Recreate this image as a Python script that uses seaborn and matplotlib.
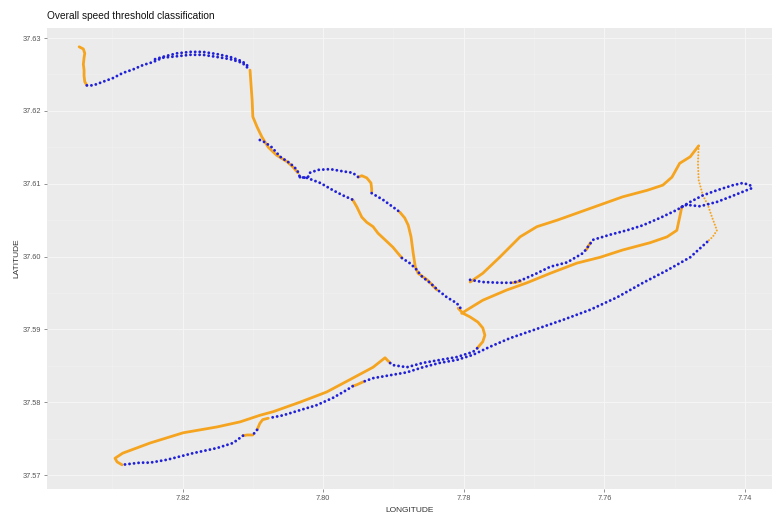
import matplotlib
matplotlib.use("Agg")
import matplotlib.pyplot as plt
from matplotlib.ticker import MultipleLocator
import seaborn as sns
import pandas as pd

# ---------------- data ----------------
title = "Overall speed threshold classification"
x_label = "LONGITUDE"
y_label = "LATITUDE"
x_ticks = [7.82, 7.80, 7.78, 7.76, 7.74]
x_tick_labels = ["7.82", "7.80", "7.78", "7.76", "7.74"]
y_ticks = [37.63, 37.62, 37.61, 37.60, 37.59, 37.58, 37.57]
y_tick_labels = ["37.63", "37.62", "37.61", "37.60", "37.59", "37.58", "37.57"]

# track pieces: class "orange" = above threshold, "blue" = below threshold
o1_lon = [7.8347, 7.8341, 7.8339, 7.8340, 7.8341, 7.8340, 7.8340, 7.8339, 7.8336]
o1_lat = [37.6288, 37.6285, 37.6279, 37.6273, 37.6264, 37.6256, 37.6248, 37.6240, 37.6235]
b1_lon = [7.8336, 7.8327, 7.8313, 7.8299, 7.8285, 7.8270, 7.8256, 7.8242, 7.8228, 7.8208,
          7.8189, 7.8171, 7.8151, 7.8132, 7.8115, 7.8104]
b1_lat = [37.6235, 37.6235, 37.6240, 37.6245, 37.6252, 37.6257, 37.6263, 37.6267, 37.6273, 37.6275,
          37.6277, 37.6277, 37.6274, 37.6271, 37.6266, 37.6256]
b2_lon = [7.8239, 7.8225, 7.8208, 7.8189, 7.8171, 7.8151, 7.8132, 7.8115, 7.8105]
b2_lat = [37.6271, 37.6275, 37.6279, 37.6281, 37.6281, 37.6278, 37.6274, 37.6268, 37.6260]
o2_lon = [7.8104, 7.8103, 7.8101, 7.8100, 7.8094, 7.8087, 7.8078, 7.8066, 7.8051, 7.8043, 7.8036]
o2_lat = [37.6256, 37.6242, 37.6215, 37.6192, 37.6178, 37.6164, 37.6150, 37.6139, 37.6130, 37.6123, 37.6115]
b3_lon = [7.8090, 7.8083, 7.8073, 7.8061, 7.8047, 7.8037, 7.8033, 7.8023]
b3_lat = [37.6160, 37.6157, 37.6150, 37.6137, 37.6128, 37.6119, 37.6109, 37.6108]
b4_lon = [7.8033, 7.8022, 7.8019, 7.8007, 7.7990, 7.7972, 7.7958, 7.7950]
b4_lat = [37.6109, 37.6108, 37.6115, 37.6119, 37.6120, 37.6117, 37.6115, 37.6109]
o3_lon = [7.7950, 7.7945, 7.7938, 7.7932, 7.7931, 7.7931]
o3_lat = [37.6109, 37.6111, 37.6108, 37.6101, 37.6093, 37.6089]
b5_lon = [7.7931, 7.7915, 7.7895, 7.7891]
b5_lat = [37.6087, 37.6078, 37.6064, 37.6061]
o4_lon = [7.7891, 7.7884, 7.7879, 7.7875, 7.7872, 7.7869, 7.7865, 7.7852, 7.7838]
o4_lat = [37.6061, 37.6053, 37.6043, 37.6027, 37.6005, 37.5986, 37.5977, 37.5968, 37.5954]
b7_lon = [7.8023, 7.8004, 7.7986, 7.7972, 7.7958]
b7_lat = [37.6108, 37.6101, 37.6091, 37.6084, 37.6078]
o5_lon = [7.7958, 7.7952, 7.7945, 7.7938, 7.7929, 7.7922, 7.7912, 7.7901, 7.7888]
o5_lat = [37.6078, 37.6068, 37.6054, 37.6047, 37.6041, 37.6032, 37.6023, 37.6013, 37.5998]
b8_lon = [7.7888, 7.7877, 7.7869, 7.7859, 7.7848, 7.7837, 7.7824, 7.7810, 7.7803]
b8_lat = [37.5998, 37.5991, 37.5984, 37.5972, 37.5964, 37.5954, 37.5944, 37.5936, 37.5927]
o7_lon = [7.7808, 7.7801, 7.7791, 7.7780, 7.7773, 7.7770, 7.7773, 7.7781]
o7_lat = [37.5929, 37.5922, 37.5917, 37.5910, 37.5902, 37.5892, 37.5883, 37.5874]
o8_lon = [7.7803, 7.7795, 7.7773, 7.7739, 7.7710, 7.7677, 7.7639, 7.7606, 7.7574, 7.7535,
          7.7511, 7.7497, 7.7493, 7.7490]
o8_lat = [37.5922, 37.5927, 37.5940, 37.5954, 37.5964, 37.5977, 37.5991, 37.5999, 37.6009, 37.6019,
          37.6027, 37.6036, 37.6054, 37.6068]
b9_lon = [7.7791, 7.7773, 7.7749, 7.7730, 7.7717, 7.7696, 7.7677, 7.7653, 7.7630, 7.7616,
          7.7592, 7.7568, 7.7545, 7.7521, 7.7497, 7.7478, 7.7460, 7.7440, 7.7417, 7.7403,
          7.7393, 7.7390, 7.7403, 7.7421, 7.7440, 7.7464, 7.7483, 7.7490]
b9_lat = [37.5968, 37.5965, 37.5964, 37.5964, 37.5968, 37.5977, 37.5986, 37.5992, 37.6005, 37.6023,
          37.6030, 37.6036, 37.6043, 37.6053, 37.6064, 37.6075, 37.6084, 37.6091, 37.6098, 37.6101,
          37.6098, 37.6094, 37.6089, 37.6082, 37.6075, 37.6069, 37.6071, 37.6068]
o9_lon = [7.7730, 7.7724, 7.7719]
o9_lat = [37.5964, 37.5965, 37.5966]
o10_lon = [7.7626, 7.7623, 7.7620]
o10_lat = [37.6009, 37.6014, 37.6019]
o11_lon = [7.7791, 7.7773, 7.7749, 7.7720, 7.7696, 7.7667, 7.7635, 7.7606, 7.7574, 7.7539,
           7.7517, 7.7504, 7.7493, 7.7478, 7.7466]
o11_lat = [37.5965, 37.5977, 37.5999, 37.6027, 37.6041, 37.6050, 37.6061, 37.6071, 37.6082, 37.6091,
           37.6098, 37.6109, 37.6128, 37.6137, 37.6152]
o12_lon = [7.7466, 7.7467, 7.7466, 7.7460, 7.7453, 7.7447, 7.7440, 7.7446, 7.7454]
o12_lat = [37.6152, 37.6128, 37.6105, 37.6084, 37.6071, 37.6054, 37.6036, 37.6027, 37.6020]
b10_lon = [7.7454, 7.7478, 7.7511, 7.7545, 7.7582, 7.7620, 7.7659, 7.7692, 7.7734, 7.7763,
           7.7787, 7.7810, 7.7834, 7.7858, 7.7881, 7.7905, 7.7929, 7.7943]
b10_lat = [37.6020, 37.5999, 37.5981, 37.5964, 37.5944, 37.5927, 37.5913, 37.5902, 37.5888, 37.5876,
           37.5865, 37.5858, 37.5854, 37.5848, 37.5841, 37.5837, 37.5833, 37.5828]
o13_lon = [7.7943, 7.7952, 7.7958]
o13_lat = [37.5828, 37.5824, 37.5822]
b11_lon = [7.7958, 7.7966, 7.7986, 7.8009, 7.8033, 7.8057, 7.8078]
b11_lat = [37.5822, 37.5817, 37.5806, 37.5796, 37.5789, 37.5782, 37.5778]
o14_lon = [7.8078, 7.8086, 7.8090, 7.8094]
o14_lat = [37.5778, 37.5776, 37.5771, 37.5762]
b12_lon = [7.8094, 7.8100]
b12_lat = [37.5762, 37.5755]
o15_lon = [7.8100, 7.8108, 7.8114]
o15_lat = [37.5755, 37.5755, 37.5754]
b13_lon = [7.8114, 7.8128, 7.8151, 7.8185, 7.8222, 7.8246, 7.8260, 7.8286]
b13_lat = [37.5754, 37.5744, 37.5737, 37.5730, 37.5721, 37.5717, 37.5717, 37.5714]
b14_lon = [7.7781, 7.7787, 7.7810, 7.7834, 7.7858, 7.7881, 7.7901, 7.7905]
b14_lat = [37.5874, 37.5869, 37.5862, 37.5858, 37.5854, 37.5848, 37.5851, 37.5854]
o16_lon = [7.7905, 7.7912, 7.7929, 7.7958, 7.7995, 7.8033, 7.8071, 7.8090, 7.8118, 7.8151,
           7.8199, 7.8246, 7.8285, 7.8296, 7.8293, 7.8286]
o16_lat = [37.5854, 37.5861, 37.5848, 37.5833, 37.5814, 37.5800, 37.5787, 37.5782, 37.5773, 37.5766,
           37.5758, 37.5744, 37.5730, 37.5723, 37.5718, 37.5714]

segments = [
    ("orange", o1_lon, o1_lat), ("orange", o2_lon, o2_lat), ("orange", o3_lon, o3_lat),
    ("orange", o4_lon, o4_lat), ("orange", o5_lon, o5_lat), ("orange", o7_lon, o7_lat),
    ("orange", o8_lon, o8_lat), ("orange", o9_lon, o9_lat), ("orange", o10_lon, o10_lat),
    ("orange", o11_lon, o11_lat), ("orange_sparse", o12_lon, o12_lat), ("orange", o13_lon, o13_lat),
    ("orange", o14_lon, o14_lat), ("orange", o15_lon, o15_lat), ("orange", o16_lon, o16_lat),
    ("blue", b1_lon, b1_lat), ("blue", b2_lon, b2_lat), ("blue", b3_lon, b3_lat),
    ("blue", b4_lon, b4_lat), ("blue", b5_lon, b5_lat), ("blue", b7_lon, b7_lat),
    ("blue", b8_lon, b8_lat), ("blue", b9_lon, b9_lat), ("blue", b10_lon, b10_lat),
    ("blue", b11_lon, b11_lat), ("blue", b12_lon, b12_lat), ("blue", b13_lon, b13_lat),
    ("blue", b14_lon, b14_lat),
]

rows = []
for i, (cls, lons, lats) in enumerate(segments):
    for lo, la in zip(lons, lats):
        rows.append({"seg": i, "cls": cls, "lon": lo, "lat": la})
df = pd.DataFrame(rows)

# ---------------- styling ----------------
sns.set_theme(style="darkgrid", rc={
    "axes.facecolor": "#EBEBEB",
    "grid.color": "white",
})
plt.rcParams["font.family"] = ["Liberation Sans", "DejaVu Sans"]

styles = {
    "orange": dict(color="#F5A420", linewidth=2.0, linestyle="-", solid_capstyle="round"),
    "orange_sparse": dict(color="#F5A420", linewidth=1.5, linestyle=(0, (0.01, 1.5)), dash_capstyle="round"),
    "blue": dict(color="#2020D8", linewidth=2.1, linestyle=(0, (0.01, 1.55)), dash_capstyle="round"),
}

fig = plt.figure(figsize=(7.74, 5.15), dpi=100)
ax = fig.add_axes([47 / 774, 1 - 489 / 515, (772 - 47) / 774, (489 - 28) / 515])

for i, (cls, _, _) in enumerate(segments):
    sub = df[df["seg"] == i]
    sns.lineplot(data=sub, x="lon", y="lat", sort=False, estimator=None, ax=ax, **styles[cls])

ax.set_xlim(7.83927, 7.73617)
ax.set_ylim(37.56808, 37.63138)
ax.set_xticks(x_ticks)
ax.set_xticklabels(x_tick_labels)
ax.set_yticks(y_ticks)
ax.set_yticklabels(y_tick_labels)
ax.xaxis.set_minor_locator(MultipleLocator(0.01))
ax.yaxis.set_minor_locator(MultipleLocator(0.005))
ax.grid(which="major", color="#F6F6F6", linewidth=0.7)
ax.grid(which="minor", color="#F1F1F1", linewidth=0.4)
for s in ax.spines.values():
    s.set_visible(False)
ax.tick_params(axis="both", which="major", length=2, width=0.5, color="#666666",
               labelsize=5.3, labelcolor="#555555", pad=2, bottom=True, left=True)
ax.tick_params(axis="both", which="minor", length=0)
ax.set_xlabel(x_label, fontsize=6, color="#333333")
ax.set_ylabel(y_label, fontsize=6, color="#333333")
ax.xaxis.set_label_coords(0.5, -0.039)
ax.yaxis.set_label_coords(-0.037, 0.5)
fig.text(47 / 774, 1 - 16 / 515, title, fontsize=7.3, color="#111111", ha="left", va="center")

fig.savefig("out.png", dpi=100)
